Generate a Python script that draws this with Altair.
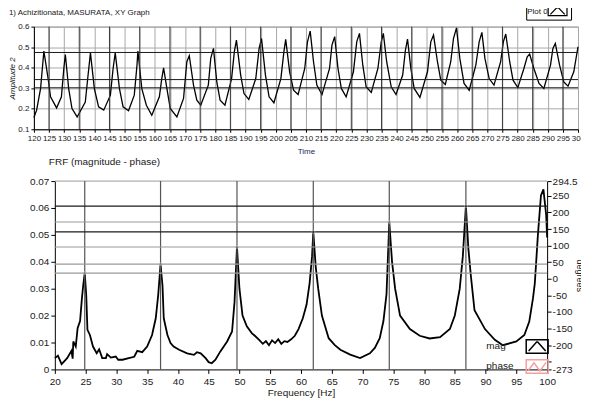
import altair as alt
import pandas as pd

# ---------------- top graph: Amplitude 2 vs Time ----------------
time = [120.0, 120.9, 122.2, 123.3, 124.7, 125.5, 127.5, 129.1, 129.9, 130.4, 131.5, 132.6,
        134.3, 137.0, 137.8, 138.7, 140.0, 141.4, 143.1, 145.3, 146.2, 146.9, 148.3, 149.5,
        151.3, 153.2, 154.1, 154.4, 155.7, 157.2, 159.0, 161.5, 162.3, 162.9, 164.0, 165.1,
        167.3, 169.5, 170.6, 171.4, 172.8, 173.9, 175.2, 177.7, 178.5, 179.4, 180.5, 181.6,
        183.2, 185.4, 186.3, 187.0, 188.4, 189.5, 191.1, 193.4, 194.5, 195.3, 196.6, 197.8,
        199.4, 201.7, 202.7, 203.3, 204.6, 205.9, 207.4, 209.6, 210.5, 211.4, 212.5, 213.6,
        215.3, 217.8, 218.6, 219.5, 220.6, 221.7, 223.3, 225.7, 226.8, 227.7, 228.8, 229.9,
        231.6, 233.8, 234.9, 235.6, 236.7, 238.2, 239.8, 242.0, 242.9, 243.6, 244.7, 245.8,
        247.7, 250.2, 251.3, 252.2, 253.5, 254.6, 256.1, 257.9, 258.8, 259.8, 260.9, 262.3,
        264.0, 266.2, 267.3, 268.2, 269.2, 270.6, 272.2, 274.4, 275.3, 276.1, 277.4, 278.5,
        280.1, 282.1, 283.2, 284.0, 285.4, 287.1, 288.7, 290.9, 291.7, 292.5, 293.9, 295.3,
        296.7, 298.6, 300.0]
amp = [0.157, 0.193, 0.298, 0.481, 0.347, 0.258, 0.204, 0.258, 0.396, 0.464, 0.298, 0.201,
       0.160, 0.233, 0.347, 0.472, 0.298, 0.209, 0.193, 0.266, 0.396, 0.472, 0.298, 0.209,
       0.190, 0.266, 0.412, 0.481, 0.298, 0.217, 0.168, 0.258, 0.347, 0.399, 0.298, 0.201,
       0.160, 0.250, 0.429, 0.458, 0.315, 0.242, 0.217, 0.315, 0.445, 0.494, 0.331, 0.242,
       0.217, 0.347, 0.477, 0.534, 0.364, 0.274, 0.245, 0.347, 0.494, 0.542, 0.364, 0.258,
       0.229, 0.347, 0.477, 0.538, 0.380, 0.290, 0.269, 0.396, 0.526, 0.578, 0.429, 0.315,
       0.269, 0.396, 0.510, 0.551, 0.396, 0.299, 0.258, 0.380, 0.526, 0.567, 0.412, 0.307,
       0.279, 0.396, 0.526, 0.567, 0.429, 0.307, 0.269, 0.364, 0.485, 0.539, 0.396, 0.299,
       0.255, 0.380, 0.526, 0.559, 0.429, 0.339, 0.318, 0.429, 0.542, 0.594, 0.445, 0.323,
       0.290, 0.412, 0.526, 0.572, 0.445, 0.347, 0.315, 0.429, 0.526, 0.564, 0.429, 0.339,
       0.303, 0.396, 0.453, 0.466, 0.396, 0.323, 0.299, 0.412, 0.494, 0.518, 0.412, 0.331,
       0.310, 0.380, 0.502]
top_x_ticks = list(range(120, 301, 5))
top_y_ticks = [0.1, 0.2, 0.3, 0.4, 0.5, 0.6]
top_dark_vlines = list(range(125, 300, 10))
top_cursor_levels = [0.474, 0.342, 0.302]

# ---------------- bottom graph: FRF magnitude ----------------
freq = [20.0, 20.5, 21.1, 22.0, 22.7, 22.9, 23.0, 23.4, 23.7, 24.1, 24.4, 24.6, 24.86,
        25.1, 25.3, 25.7, 26.2, 26.8, 27.2, 27.7, 28.3, 28.5, 29.1, 29.9, 30.3, 31.0,
        32.0, 32.9, 33.4, 34.2, 35.0, 35.8, 36.4, 36.8, 37.18, 37.5, 37.7, 38.3, 38.8,
        39.3, 40.2, 41.5, 42.6, 43.1, 43.7, 44.5, 45.0, 45.5, 46.1, 46.9, 48.0, 48.8,
        49.2, 49.6, 50.0, 50.5, 51.2, 52.0, 52.5, 53.2, 53.8, 54.3, 54.8, 55.3, 55.8,
        56.3, 56.8, 57.3, 57.8, 58.4, 59.0, 59.6, 60.3, 60.9, 61.4, 61.8, 62.0, 62.4,
        62.8, 63.4, 64.5, 65.5, 66.4, 68.0, 69.6, 71.2, 72.0, 72.8, 73.4, 73.9, 74.35,
        74.8, 75.3, 76.1, 77.7, 79.3, 80.9, 82.6, 84.2, 85.0, 85.8, 86.3, 86.8, 87.2,
        87.6, 88.2, 89.9, 91.5, 92.8, 95.0, 96.3, 97.1, 97.7, 98.0, 98.5, 99.0, 99.4,
        99.85, 100.0]
mag = [0.0042, 0.0051, 0.0020, 0.0042, 0.0069, 0.0040, 0.0104, 0.0085, 0.0153, 0.0180,
       0.0264, 0.0310, 0.0358, 0.0277, 0.0147, 0.0128, 0.0085, 0.0060, 0.0075, 0.0042,
       0.0042, 0.0057, 0.0044, 0.0048, 0.0036, 0.0036, 0.0042, 0.0047, 0.0069, 0.0064,
       0.0085, 0.0128, 0.0190, 0.0277, 0.0391, 0.0310, 0.0190, 0.0128, 0.0098, 0.0085,
       0.0073, 0.0060, 0.0054, 0.0064, 0.0060, 0.0042, 0.0027, 0.0023, 0.0036, 0.0067,
       0.0104, 0.0141, 0.0250, 0.0455, 0.0300, 0.0200, 0.0160, 0.0135, 0.0125, 0.0110,
       0.0095, 0.0105, 0.0090, 0.0108, 0.0098, 0.0112, 0.0095, 0.0105, 0.0102, 0.0112,
       0.0125, 0.0150, 0.0190, 0.0240, 0.0320, 0.0420, 0.0511, 0.0380, 0.0300, 0.0200,
       0.0116, 0.0090, 0.0073, 0.0055, 0.0042, 0.0060, 0.0080, 0.0116, 0.0180, 0.0280,
       0.0548, 0.0400, 0.0300, 0.0200, 0.0150, 0.0125, 0.0115, 0.0120, 0.0150, 0.0200,
       0.0300, 0.0420, 0.0607, 0.0450, 0.0350, 0.0220, 0.0150, 0.0110, 0.0090, 0.0104,
       0.0128, 0.0178, 0.0264, 0.0320, 0.0499, 0.0647, 0.0669, 0.0573, 0.0490]
peak_freq = [24.86, 37.18, 49.6, 62.0, 74.35, 86.8]
peak_mag = [0.0358, 0.0391, 0.0455, 0.0511, 0.0548, 0.0607]
peak_line_tone = ["gray", "gray", "gray", "dark", "gray", "dark"]
bot_x_ticks = list(range(20, 101, 5))
bot_y_ticks = [0, 0.01, 0.02, 0.03, 0.04, 0.05, 0.06, 0.07]
phase_ticks = [294.5, 250, 200, 150, 100, 50, 0, -50, -100, -150, -200, -250, -273]
legend_series = ["mag", "phase"]
legend_colors = ["#000000", "#f4a0a0"]

F_MIN, F_MAX, MAG_MAX = 20, 100, 0.07
FONT = "Liberation Sans"
TXT = "#202020"

# ---------------- shared axis definitions ----------------
ax_top_x = alt.Axis(values=top_x_ticks, title="Time", grid=True, gridColor="#a8a8a8",
                    labelOverlap=False, labelFontSize=8, titleFontSize=8,
                    titleFontWeight="normal", labelFont=FONT, titleFont=FONT,
                    labelColor=TXT, titleColor="#1a2a5a", tickSize=3,
                    domainColor="#000", tickColor="#000", labelPadding=2,
                    titlePadding=5, labelFlush=False)
ax_top_y = alt.Axis(values=top_y_ticks, format=".1f", title="Amplitude 2",
                    grid=True, gridColor="#a8a8a8", labelOverlap=False,
                    labelFontSize=8, titleFontSize=8, titleFontWeight="normal",
                    labelFont=FONT, titleFont=FONT, titleFontStyle="italic",
                    labelColor=TXT, titleColor=TXT, tickSize=3,
                    domainColor="#000", tickColor="#000", labelPadding=2,
                    titlePadding=1)
ax_bot_x = alt.Axis(values=bot_x_ticks, title="Frequency [Hz]", grid=False,
                    labelOverlap=False, labelFontSize=10, titleFontSize=10,
                    titleFontWeight="normal", labelFont=FONT, titleFont=FONT,
                    labelColor=TXT, titleColor=TXT, tickSize=4,
                    domainColor="#000", tickColor="#000", labelPadding=3,
                    titlePadding=1, labelFlush=False, titleX=268)
ax_bot_y = alt.Axis(values=bot_y_ticks, title=None, grid=False, offset=-21,
                    labelOverlap=False,
                    labelExpr="datum.value == 0 ? '0' : format(datum.value, '.2f')",
                    labelFontSize=10, labelFont=FONT, labelColor=TXT,
                    tickSize=4, domainColor="#000", tickColor="#000", labelPadding=2)

# ---------------- top chart ----------------
top_df = pd.DataFrame({"Time": time, "Amp": amp, "series": "Plot 0"})
xs_top = alt.Scale(domain=[120, 300], nice=False, zero=False)
ys_top = alt.Scale(domain=[0.1, 0.6], nice=False, zero=False)

plot0_path = ("M-2.1,-1H2.1V1H-2.1Z "
              "M-1.6,0.7L-0.2,-0.75L0.2,-0.75L1.6,0.7")
top_line = alt.Chart(top_df).mark_line(strokeWidth=1.3).encode(
    x=alt.X("Time:Q", scale=xs_top, axis=ax_top_x),
    y=alt.Y("Amp:Q", scale=ys_top, axis=ax_top_y),
    color=alt.Color("series:N", scale=alt.Scale(domain=["Plot 0"], range=["#000000"]),
                    legend=alt.Legend(title="Plot 0", titleOrient="left", labelExpr="''",
                                      symbolType=plot0_path, symbolSize=81,
                                      symbolStrokeWidth=1.2, symbolStrokeColor="#000",
                                      titleFontSize=8, titleFont=FONT, titleColor=TXT,
                                      titleFontWeight="normal", titlePadding=4,
                                      labelOffset=0, strokeColor="#000", padding=1,
                                      fillColor="white", orient="none",
                                      legendX=494, legendY=-22)),
)
top_vl = alt.Chart(pd.DataFrame({"Time": top_dark_vlines})).mark_rule(
    color="#3a3a3a", strokeWidth=1).encode(x=alt.X("Time:Q", scale=xs_top, axis=ax_top_x))
top_hl = alt.Chart(pd.DataFrame({"Amp": top_cursor_levels})).mark_rule(
    color="#1a1a1a", strokeWidth=1).encode(y=alt.Y("Amp:Q", scale=ys_top, axis=ax_top_y))

top = alt.layer(top_line, top_vl, top_hl).properties(
    width=546, height=103, view=alt.ViewBackground(stroke="#9a9a9a"),
    title=alt.TitleParams("1) Achizitionata, MASURATA, XY Graph", anchor="start",
                          frame="bounds", fontSize=8, font=FONT, fontWeight="normal",
                          color=TXT, offset=0, dy=13))

# ---------------- bottom chart ----------------
# plot frame shares the top chart's left edge; the FRF axes sit 21 px inside it
xs_bot = alt.Scale(domain=[F_MIN, F_MAX], range=[21, 515], nice=False, zero=False)
ys_bot = alt.Scale(domain=[0, MAG_MAX], nice=False)

bot_df = pd.DataFrame({"f": freq, "mag": mag})
pk_df = pd.DataFrame({"f": peak_freq, "mag": peak_mag, "tone": peak_line_tone,
                      "f2": F_MAX})
frame_df = pd.DataFrame({"f": [F_MIN], "f2": [F_MAX], "mag": [MAG_MAX]})

bot_line = alt.Chart(bot_df).mark_line(strokeWidth=1.8, color="#000").encode(
    x=alt.X("f:Q", scale=xs_bot, axis=ax_bot_x),
    y=alt.Y("mag:Q", scale=ys_bot, axis=ax_bot_y))
bot_frame = alt.Chart(frame_df).mark_rule(color="#9a9a9a", strokeWidth=1).encode(
    x=alt.X("f:Q", scale=xs_bot, axis=ax_bot_x), x2="f2:Q",
    y=alt.Y("mag:Q", scale=ys_bot, axis=ax_bot_y))
bot_vl = alt.Chart(pk_df).mark_rule(color="#555555", strokeWidth=1.2).encode(
    x=alt.X("f:Q", scale=xs_bot, axis=ax_bot_x))
pk_base = alt.Chart(pk_df).encode(
    x=alt.X("lo:Q", scale=xs_bot, axis=ax_bot_x), x2="f2:Q",
    y=alt.Y("mag:Q", scale=ys_bot, axis=ax_bot_y)
).transform_calculate(lo=str(F_MIN))
bot_hl_gray = pk_base.mark_rule(color="#9a9a9a", strokeWidth=1.2).transform_filter(
    "datum.tone == 'gray'")
bot_hl_dark = pk_base.mark_rule(color="#1a1a1a", strokeWidth=1.2).transform_filter(
    "datum.tone == 'dark'")
bot_pts = alt.Chart(pk_df).mark_point(shape="diamond", size=14, filled=False,
                                      color="#b0b0b0", strokeWidth=1).encode(
    x=alt.X("f:Q", scale=xs_bot, axis=ax_bot_x),
    y=alt.Y("mag:Q", scale=ys_bot, axis=ax_bot_y))

leg_df = pd.DataFrame({"series": legend_series, "f": [F_MIN, F_MIN], "mag": [0.0, 0.0]})
mag_path = "M-1.22,-0.75H1.22V0.75H-1.22Z M-0.95,0.5L-0.06,-0.5L0.06,-0.5L0.95,0.5"
phase_path = "M-1.22,-0.75H1.22V0.75H-1.22Z M-1.0,0.45L-0.35,-0.4L0.3,0.5L1.0,-0.45"
leg_props = dict(title=None, orient="none", legendX=495, legendY=156,
                 labelAlign="left", labelOffset={"expr": "-61"},
                 symbolSize=324, rowPadding=0, symbolOpacity=1, symbolStrokeWidth=1.5,
                 labelFontSize=10, labelFont=FONT, labelColor=TXT)
leg_layer = alt.Chart(leg_df).mark_point(opacity=0, filled=False).encode(
    x=alt.X("f:Q", scale=xs_bot, axis=ax_bot_x),
    y=alt.Y("mag:Q", scale=ys_bot, axis=ax_bot_y),
    color=alt.Color("series:N", scale=alt.Scale(domain=legend_series, range=legend_colors),
                    legend=alt.Legend(**leg_props)),
    shape=alt.Shape("series:N", scale=alt.Scale(domain=legend_series,
                                                range=[mag_path, phase_path]),
                    legend=alt.Legend(**leg_props)),
)

left_layers = alt.layer(bot_line, bot_frame, bot_vl, bot_hl_gray, bot_hl_dark, bot_pts,
                        leg_layer)

phase_df = pd.DataFrame({"deg": phase_ticks})
phase_axis = alt.Chart(phase_df).mark_tick(opacity=0).encode(
    y=alt.Y("deg:Q", scale=alt.Scale(domain=[-273, 294.5], nice=False, zero=False),
            axis=alt.Axis(orient="right", values=phase_ticks, title="degrees", offset=-31,
                          labelOverlap=False,
                          labelExpr="datum.value == -250 ? '' : '' + datum.value",
                          labelFontSize=10, labelFont=FONT, labelColor=TXT,
                          titleFontSize=9, titleFont=FONT, titleFontWeight="normal",
                          titleColor=TXT, titleAngle=90, titleX=27,
                          tickSize=4, domainColor="#000", tickColor="#000",
                          labelPadding=1, grid=False)))

bottom = alt.layer(left_layers, phase_axis).resolve_scale(y="independent").properties(
    width=546, height=189, view=alt.ViewBackground(stroke="transparent"),
    title=alt.TitleParams("FRF (magnitude - phase)", anchor="start", frame="group",
                          dx=15, fontSize=10, font=FONT, fontWeight="normal",
                          color=TXT, offset=9))

chart = alt.ConcatChart(concat=[top, bottom], columns=1, spacing=0,
                        padding={"left": 0, "top": -5, "right": -5, "bottom": 0}
                        ).resolve_scale(
    color="independent", shape="independent", x="independent", y="independent"
).resolve_legend(color="independent", shape="independent").configure(background="white")

chart.save("out.html", embed_options={"renderer": "svg", "actions": False})
